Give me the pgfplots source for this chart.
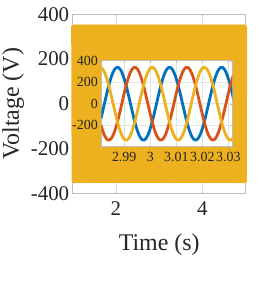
\documentclass[border=0pt]{standalone}
\usepackage{fontspec}
\setmainfont{Liberation Serif}
\usepackage{pgfplots}
\usepackage{pgfplotstable}
\pgfplotsset{compat=1.18}
\definecolor{mblue}{RGB}{0,114,189}
\definecolor{mred}{RGB}{217,83,25}
\definecolor{myel}{RGB}{237,177,32}
\definecolor{mtxt}{RGB}{38,38,38}
\pgfplotstableread{
t a b c
2.98107 -137.9 -199.3 337.1
2.98173 -70.5 -251.9 322.4
2.98240 0 -293.6 293.6
2.98307 70.5 -322.4 251.9
2.98373 137.9 -337.1 199.3
2.98440 199.3 -337.1 137.9
2.98507 251.9 -322.4 70.5
2.98573 293.6 -293.6 0
2.98640 322.4 -251.9 -70.5
2.98707 337.1 -199.3 -137.9
2.98773 337.1 -137.9 -199.3
2.98840 322.4 -70.5 -251.9
2.98907 293.6 0 -293.6
2.98973 251.9 70.5 -322.4
2.99040 199.3 137.9 -337.1
2.99107 137.9 199.3 -337.1
2.99173 70.5 251.9 -322.4
2.99240 0 293.6 -293.6
2.99307 -70.5 322.4 -251.9
2.99373 -137.9 337.1 -199.3
2.99440 -199.3 337.1 -137.9
2.99507 -251.9 322.4 -70.5
2.99573 -293.6 293.6 0
2.99640 -322.4 251.9 70.5
2.99707 -337.1 199.3 137.9
2.99773 -337.1 137.9 199.3
2.99840 -322.4 70.5 251.9
2.99907 -293.6 0 293.6
2.99973 -251.9 -70.5 322.4
3.00040 -199.3 -137.9 337.1
3.00107 -137.9 -199.3 337.1
3.00173 -70.5 -251.9 322.4
3.00240 0 -293.6 293.6
3.00307 70.5 -322.4 251.9
3.00373 137.9 -337.1 199.3
3.00440 199.3 -337.1 137.9
3.00507 251.9 -322.4 70.5
3.00573 293.6 -293.6 0
3.00640 322.4 -251.9 -70.5
3.00707 337.1 -199.3 -137.9
3.00773 337.1 -137.9 -199.3
3.00840 322.4 -70.5 -251.9
3.00907 293.6 0 -293.6
3.00973 251.9 70.5 -322.4
3.01040 199.3 137.9 -337.1
3.01107 137.9 199.3 -337.1
3.01173 70.5 251.9 -322.4
3.01240 0 293.6 -293.6
3.01307 -70.5 322.4 -251.9
3.01373 -137.9 337.1 -199.3
3.01440 -199.3 337.1 -137.9
3.01507 -251.9 322.4 -70.5
3.01573 -293.6 293.6 0
3.01640 -322.4 251.9 70.5
3.01707 -337.1 199.3 137.9
3.01773 -337.1 137.9 199.3
3.01840 -322.4 70.5 251.9
3.01907 -293.6 0 293.6
3.01973 -251.9 -70.5 322.4
3.02040 -199.3 -137.9 337.1
3.02107 -137.9 -199.3 337.1
3.02173 -70.5 -251.9 322.4
3.02240 0 -293.6 293.6
3.02307 70.5 -322.4 251.9
3.02373 137.9 -337.1 199.3
3.02440 199.3 -337.1 137.9
3.02507 251.9 -322.4 70.5
3.02573 293.6 -293.6 0
3.02640 322.4 -251.9 -70.5
3.02707 337.1 -199.3 -137.9
3.02773 337.1 -137.9 -199.3
3.02840 322.4 -70.5 -251.9
3.02907 293.6 0 -293.6
3.02973 251.9 70.5 -322.4
3.03040 199.3 137.9 -337.1
3.03107 137.9 199.3 -337.1
3.03173 70.5 251.9 -322.4
3.03240 0 293.6 -293.6
}\inset
\begin{document}
\begin{tikzpicture}
\useasboundingbox (-72.7bp,-105.7bp) rectangle (196.3bp,193.3bp);
\begin{axis}[
  at={(0,0)}, anchor=south west, scale only axis,
  width=173bp, height=179bp,
  xmin=1, xmax=5, ymin=-400, ymax=400,
  xtick={2,4}, xticklabels={2,4},
  ytick={-400,-200,0,200,400}, yticklabels={-400,-200,0,200,400},
  grid=major, major grid style={gray!22, line width=0.4pt},
  axis line style={gray!50, line width=0.5pt},
  tick style={gray!50}, tick align=inside, major tick length=2.5bp,
  tick label style={font=\fontsize{21}{24}\selectfont, text=mtxt},
  xticklabel style={yshift=-5bp},
  label style={font=\fontsize{24}{28}\selectfont, text=mtxt},
  xlabel style={yshift=-11bp},
  xlabel={Time (s)}, ylabel={Voltage (V)},
  clip=false,
]
\addplot[myel, line width=3bp, line join=round] coordinates {
(1.00,348)(1.01,-348)(1.02,348)(1.03,-348)(1.04,348)(1.05,-348)(1.06,348)(1.07,-348)(1.08,348)(1.09,-348)
(1.10,348)(1.11,-348)(1.12,348)(1.13,-348)(1.14,348)(1.15,-348)(1.16,348)(1.17,-348)(1.18,348)(1.19,-348)
(1.20,348)(1.21,-348)(1.22,348)(1.23,-348)(1.24,348)(1.25,-348)(1.26,348)(1.27,-348)(1.28,348)(1.29,-348)
(1.30,348)(1.31,-348)(1.32,348)(1.33,-348)(1.34,348)(1.35,-348)(1.36,348)(1.37,-348)(1.38,348)(1.39,-348)
(1.40,348)(1.41,-348)(1.42,348)(1.43,-348)(1.44,348)(1.45,-348)(1.46,348)(1.47,-348)(1.48,348)(1.49,-348)
(1.50,348)(1.51,-348)(1.52,348)(1.53,-348)(1.54,348)(1.55,-348)(1.56,348)(1.57,-348)(1.58,348)(1.59,-348)
(1.60,348)(1.61,-348)(1.62,348)(1.63,-348)(1.64,348)(1.65,-348)(1.66,348)(1.67,-348)(1.68,348)(1.69,-348)
(1.70,348)(1.71,-348)(1.72,348)(1.73,-348)(1.74,348)(1.75,-348)(1.76,348)(1.77,-348)(1.78,348)(1.79,-348)
(1.80,348)(1.81,-348)(1.82,348)(1.83,-348)(1.84,348)(1.85,-348)(1.86,348)(1.87,-348)(1.88,348)(1.89,-348)
(1.90,348)(1.91,-348)(1.92,348)(1.93,-348)(1.94,348)(1.95,-348)(1.96,348)(1.97,-348)(1.98,348)(1.99,-348)
(2.00,348)(2.01,-348)(2.02,348)(2.03,-348)(2.04,348)(2.05,-348)(2.06,348)(2.07,-348)(2.08,348)(2.09,-348)
(2.10,348)(2.11,-348)(2.12,348)(2.13,-348)(2.14,348)(2.15,-348)(2.16,348)(2.17,-348)(2.18,348)(2.19,-348)
(2.20,348)(2.21,-348)(2.22,348)(2.23,-348)(2.24,348)(2.25,-348)(2.26,348)(2.27,-348)(2.28,348)(2.29,-348)
(2.30,348)(2.31,-348)(2.32,348)(2.33,-348)(2.34,348)(2.35,-348)(2.36,348)(2.37,-348)(2.38,348)(2.39,-348)
(2.40,348)(2.41,-348)(2.42,348)(2.43,-348)(2.44,348)(2.45,-348)(2.46,348)(2.47,-348)(2.48,348)(2.49,-348)
(2.50,348)(2.51,-348)(2.52,348)(2.53,-348)(2.54,348)(2.55,-348)(2.56,348)(2.57,-348)(2.58,348)(2.59,-348)
(2.60,348)(2.61,-348)(2.62,348)(2.63,-348)(2.64,348)(2.65,-348)(2.66,348)(2.67,-348)(2.68,348)(2.69,-348)
(2.70,348)(2.71,-348)(2.72,348)(2.73,-348)(2.74,348)(2.75,-348)(2.76,348)(2.77,-348)(2.78,348)(2.79,-348)
(2.80,348)(2.81,-348)(2.82,348)(2.83,-348)(2.84,348)(2.85,-348)(2.86,348)(2.87,-348)(2.88,348)(2.89,-348)
(2.90,348)(2.91,-348)(2.92,348)(2.93,-348)(2.94,348)(2.95,-348)(2.96,348)(2.97,-348)(2.98,348)(2.99,-348)
(3.00,348)(3.01,-348)(3.02,348)(3.03,-348)(3.04,348)(3.05,-348)(3.06,348)(3.07,-348)(3.08,348)(3.09,-348)
(3.10,348)(3.11,-348)(3.12,348)(3.13,-348)(3.14,348)(3.15,-348)(3.16,348)(3.17,-348)(3.18,348)(3.19,-348)
(3.20,348)(3.21,-348)(3.22,348)(3.23,-348)(3.24,348)(3.25,-348)(3.26,348)(3.27,-348)(3.28,348)(3.29,-348)
(3.30,348)(3.31,-348)(3.32,348)(3.33,-348)(3.34,348)(3.35,-348)(3.36,348)(3.37,-348)(3.38,348)(3.39,-348)
(3.40,348)(3.41,-348)(3.42,348)(3.43,-348)(3.44,348)(3.45,-348)(3.46,348)(3.47,-348)(3.48,348)(3.49,-348)
(3.50,348)(3.51,-348)(3.52,348)(3.53,-348)(3.54,348)(3.55,-348)(3.56,348)(3.57,-348)(3.58,348)(3.59,-348)
(3.60,348)(3.61,-348)(3.62,348)(3.63,-348)(3.64,348)(3.65,-348)(3.66,348)(3.67,-348)(3.68,348)(3.69,-348)
(3.70,348)(3.71,-348)(3.72,348)(3.73,-348)(3.74,348)(3.75,-348)(3.76,348)(3.77,-348)(3.78,348)(3.79,-348)
(3.80,348)(3.81,-348)(3.82,348)(3.83,-348)(3.84,348)(3.85,-348)(3.86,348)(3.87,-348)(3.88,348)(3.89,-348)
(3.90,348)(3.91,-348)(3.92,348)(3.93,-348)(3.94,348)(3.95,-348)(3.96,348)(3.97,-348)(3.98,348)(3.99,-348)
(4.00,348)(4.01,-348)(4.02,348)(4.03,-348)(4.04,348)(4.05,-348)(4.06,348)(4.07,-348)(4.08,348)(4.09,-348)
(4.10,348)(4.11,-348)(4.12,348)(4.13,-348)(4.14,348)(4.15,-348)(4.16,348)(4.17,-348)(4.18,348)(4.19,-348)
(4.20,348)(4.21,-348)(4.22,348)(4.23,-348)(4.24,348)(4.25,-348)(4.26,348)(4.27,-348)(4.28,348)(4.29,-348)
(4.30,348)(4.31,-348)(4.32,348)(4.33,-348)(4.34,348)(4.35,-348)(4.36,348)(4.37,-348)(4.38,348)(4.39,-348)
(4.40,348)(4.41,-348)(4.42,348)(4.43,-348)(4.44,348)(4.45,-348)(4.46,348)(4.47,-348)(4.48,348)(4.49,-348)
(4.50,348)(4.51,-348)(4.52,348)(4.53,-348)(4.54,348)(4.55,-348)(4.56,348)(4.57,-348)(4.58,348)(4.59,-348)
(4.60,348)(4.61,-348)(4.62,348)(4.63,-348)(4.64,348)(4.65,-348)(4.66,348)(4.67,-348)(4.68,348)(4.69,-348)
(4.70,348)(4.71,-348)(4.72,348)(4.73,-348)(4.74,348)(4.75,-348)(4.76,348)(4.77,-348)(4.78,348)(4.79,-348)
(4.80,348)(4.81,-348)(4.82,348)(4.83,-348)(4.84,348)(4.85,-348)(4.86,348)(4.87,-348)(4.88,348)(4.89,-348)
(4.90,348)(4.91,-348)(4.92,348)(4.93,-348)(4.94,348)(4.95,-348)(4.96,348)(4.97,-348)(4.98,348)(4.99,-348)
(5.00,348)
};
\end{axis}
\begin{axis}[
  at={(28.6bp,46.6bp)}, anchor=south west, scale only axis,
  width=131bp, height=86bp,
  xmin=2.9812, xmax=3.0315, ymin=-400, ymax=400,
  axis background/.style={fill=white},
  xtick={2.99,3,3.01,3.02,3.03}, xticklabels={2.99,3,3.01,3.02,3.03},
  ytick={-400,-200,0,200,400}, yticklabels={,-200,0,200,400},
  grid=major, major grid style={gray!22, line width=0.4pt},
  axis line style={gray!50, line width=0.5pt},
  tick style={gray!50}, tick align=inside, major tick length=2bp,
  tick label style={font=\fontsize{14}{16}\selectfont, text=mtxt},
  xticklabel style={yshift=-2bp},
  scaled x ticks=false,
]
\addplot[mblue, line width=2.8bp] table[x=t, y=a] {\inset};
\addplot[mred, line width=2.8bp] table[x=t, y=b] {\inset};
\addplot[myel, line width=2.8bp] table[x=t, y=c] {\inset};
\end{axis}
\end{tikzpicture}
\end{document}
